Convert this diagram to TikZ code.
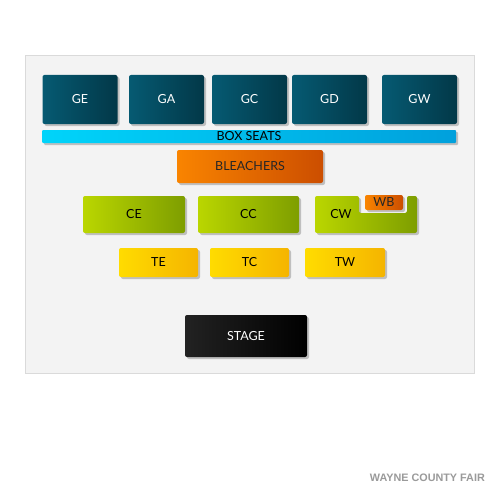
\documentclass[tikz,border=0pt]{standalone}
\usepackage{fontspec}
\setmainfont{Lato}
\usetikzlibrary{shadows}
\definecolor{tealA}{HTML}{065A72}
\definecolor{tealB}{HTML}{023848}
\definecolor{cyanA}{HTML}{00D4FA}
\definecolor{cyanB}{HTML}{00A0DC}
\definecolor{oranA}{HTML}{F98400}
\definecolor{oranB}{HTML}{CC4E00}
\definecolor{limeA}{HTML}{BAD600}
\definecolor{limeB}{HTML}{7E9E00}
\definecolor{yelA}{HTML}{FFDC00}
\definecolor{yelB}{HTML}{F5B400}
\definecolor{blkA}{HTML}{222222}
\definecolor{blkB}{HTML}{000000}
\definecolor{panel}{HTML}{F3F3F3}
\definecolor{panelline}{HTML}{DADADA}
\definecolor{foot}{HTML}{9A9A9A}
\tikzset{
  lbl/.style={font=\fontsize{12.5}{14}\selectfont},
  seat/.style={rectangle, rounded corners=2pt, inner sep=0pt, lbl,
    drop shadow={shadow xshift=2pt, shadow yshift=-2pt, opacity=0.45}},
  teal/.style={seat, left color=tealA, right color=tealB, text=white},
  cyanbox/.style={seat, left color=cyanA, right color=cyanB, text=black},
  orangebox/.style={seat, left color=oranA, right color=oranB, text=black!85},
  limebox/.style={seat, left color=limeA, right color=limeB, text=black},
  yellowbox/.style={seat, left color=yelA, right color=yelB, text=black},
  blackbox/.style={seat, left color=blkA, right color=blkB, text=white},
}
\begin{document}
\begin{tikzpicture}[x=1pt,y=-1pt]
\useasboundingbox (0,0) rectangle (500,500);
\fill[white] (0,0) rectangle (500,500);
\draw[panelline, fill=panel] (25,55) rectangle (474,373);
% top row
\node[teal, minimum width=75pt, minimum height=49pt] (GE) at (80,99.5) {GE};
\node[teal, minimum width=75pt, minimum height=49pt] (GA) at (166.5,99.5) {GA};
\node[teal, minimum width=75pt, minimum height=49pt] (GC) at (249.5,99.5) {GC};
\node[teal, minimum width=75pt, minimum height=49pt] (GD) at (329.5,99.5) {GD};
\node[teal, minimum width=75pt, minimum height=49pt] (GW) at (419.5,99.5) {GW};
\node[cyanbox, rounded corners=1pt, minimum width=414pt, minimum height=13pt] (BOX) at (249,136.5) {BOX SEATS};
\node[orangebox, minimum width=146pt, minimum height=33pt] (BL) at (250,166.5) {BLEACHERS};
% C row
\node[limebox, minimum width=102pt, minimum height=37pt] (CE) at (134,214.5) {CE};
\node[limebox, minimum width=101pt, minimum height=37pt] (CC) at (248.5,214.5) {CC};
\path[rounded corners=2pt, left color=limeA, right color=limeB,
  drop shadow={shadow xshift=2pt, shadow yshift=-2pt, opacity=0.45}]
  (315,196) -- (359,196) -- (359,213) -- (407,213) -- (407,196) -- (417,196)
  -- (417,233) -- (315,233) -- cycle;
\node[lbl] (CW) at (341,214) {CW};
\node[orangebox, minimum width=38pt, minimum height=15pt] (WB) at (384,202.5) {WB};
% T row
\node[yellowbox, minimum width=79pt, minimum height=29pt] (TE) at (158.5,262.5) {TE};
\node[yellowbox, minimum width=79pt, minimum height=29pt] (TC) at (249.5,262.5) {TC};
\node[yellowbox, minimum width=80pt, minimum height=29pt] (TW) at (345,262.5) {TW};
% stage
\node[blackbox, minimum width=122pt, minimum height=42pt] (ST) at (246,336) {STAGE};
% footer
\node[text=foot, font=\fontspec{Liberation Sans}\bfseries\fontsize{10.8}{12}\selectfont, anchor=east, inner sep=0pt] (FT) at (485,478) {WAYNE COUNTY FAIR};
\end{tikzpicture}
\end{document}
